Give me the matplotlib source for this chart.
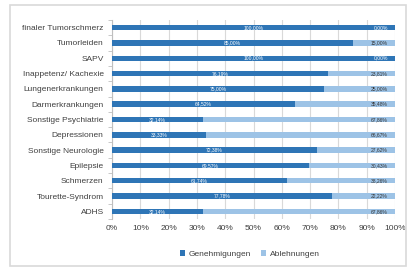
import matplotlib
matplotlib.use("Agg")
import matplotlib.pyplot as plt
from matplotlib.patches import Rectangle

categories = ["finaler Tumorschmerz", "Tumorleiden", "SAPV", "Inappetenz/ Kachexie",
              "Lungenerkrankungen", "Darmerkrankungen", "Sonstige Psychiatrie",
              "Depressionen", "Sonstige Neurologie", "Epilepsie", "Schmerzen",
              "Tourette-Syndrom", "ADHS"]
genehmigungen = [100.00, 85.00, 100.00, 76.19, 75.00, 64.52, 32.14, 33.33, 72.38, 69.57, 61.74, 77.78, 32.14]
ablehnungen = [0.00, 15.00, 0.00, 23.81, 25.00, 35.48, 67.86, 66.67, 27.62, 30.43, 38.26, 22.22, 67.86]
xticks = [0, 10, 20, 30, 40, 50, 60, 70, 80, 90, 100]

plt.rcParams['font.family'] = ['Liberation Sans', 'DejaVu Sans']
dark = '#2E75B6'
light = '#9DC3E6'

fig = plt.figure(figsize=(4.12, 2.69), dpi=100)
fig.patches.append(Rectangle((10/412, 1-266/269), 396/412, 261/269, transform=fig.transFigure,
                             fill=False, edgecolor='#D9D9D9', linewidth=1.2))
ax = fig.add_axes([112/412, 1-219/269, 283/412, 199/269])

y = list(range(len(categories)))
h = 0.36
ax.barh(y, genehmigungen, height=h, color=dark, label='Genehmigungen', zorder=3)
ax.barh(y, ablehnungen, left=genehmigungen, height=h, color=light, label='Ablehnungen', zorder=3)

def fmt(v):
    return f"{v:.2f}".replace('.', ',') + '%'

for i in y:
    g = genehmigungen[i]
    ax.text(g/2, i, fmt(g), ha='center', va='center', fontsize=3.6, color='white', zorder=4)
    ax.text(97.5, i, fmt(ablehnungen[i]), ha='right', va='center', fontsize=3.6,
            color='white' if ablehnungen[i] == 0 else '#333333', zorder=4)

ax.set_ylim(len(categories) - 0.5, -0.5)
ax.set_xlim(0, 100)
ax.set_xticks(xticks)
ax.set_xticklabels([f"{t}%" for t in xticks], fontsize=6, color='#404040')
ax.set_yticks(y)
ax.set_yticklabels(categories, fontsize=6, color='#404040')
ax.set_yticks([i + 0.5 for i in range(-1, len(categories))], minor=True)
ax.tick_params(axis='y', which='major', length=0, pad=6)
ax.tick_params(axis='y', which='minor', length=3, color='#BFBFBF')
ax.tick_params(axis='x', length=0, pad=4)
ax.grid(axis='x', color='#D9D9D9', linewidth=0.8, zorder=0)
for s in ['top', 'right', 'bottom']:
    ax.spines[s].set_visible(False)
ax.spines['left'].set_color('#BFBFBF')
ax.spines['left'].set_linewidth(0.8)

handles, labels = ax.get_legend_handles_labels()
fig.legend(handles, labels, loc='center', bbox_to_anchor=(250/412, 1-254/269), ncol=2,
           frameon=False, fontsize=6, handlelength=0.6, handleheight=0.6,
           handletextpad=0.4, columnspacing=1.2, labelcolor='#404040')

fig.savefig('out.png', dpi=100)
